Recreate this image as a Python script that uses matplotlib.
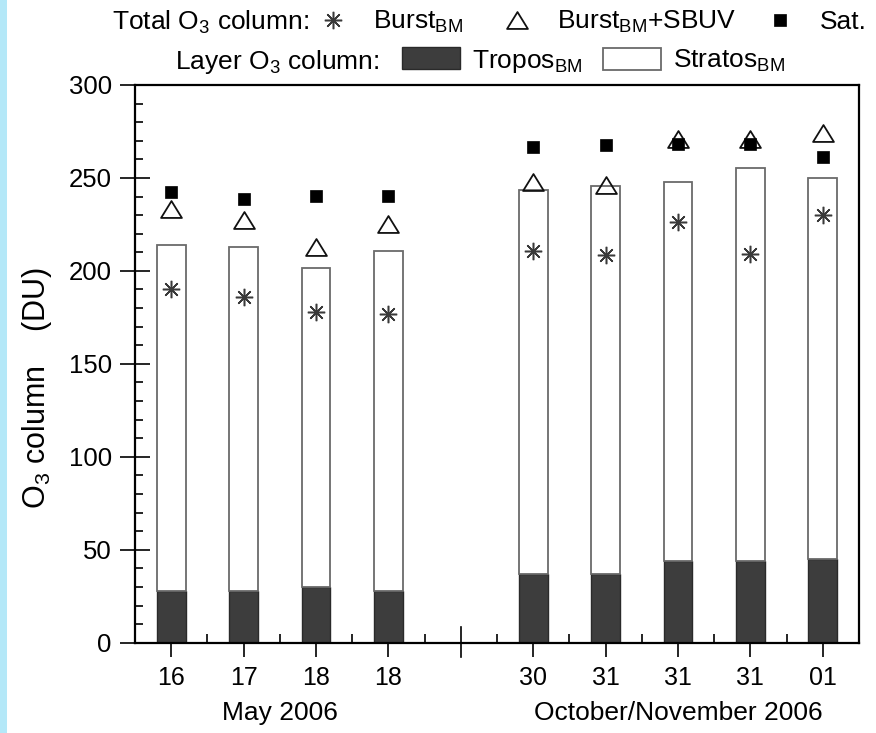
import matplotlib
matplotlib.use("Agg")
import matplotlib.pyplot as plt
import matplotlib.transforms as mtransforms
from matplotlib.path import Path
from matplotlib.lines import Line2D
from matplotlib.patches import Patch, Rectangle

plt.rcParams["font.family"] = ["Liberation Sans", "DejaVu Sans"]
plt.rcParams["mathtext.fontset"] = "custom"
plt.rcParams["mathtext.rm"] = "Liberation Sans"
plt.rcParams["mathtext.it"] = "Liberation Sans:italic"
plt.rcParams["mathtext.default"] = "regular"

# Launch days (x tick labels) and their slot positions; slot 5 separates the campaigns
days = ["16", "17", "18", "18", "30", "31", "31", "31", "01"]
positions = [1, 2, 3, 4, 6, 7, 8, 9, 10]
break_pos = 5
campaigns = ["May 2006", "October/November 2006"]
campaign_centers = [2.5, 8.0]

# Layer ozone columns (DU)
tropos = [28, 28, 30, 28, 37, 37, 44, 44, 45]
stratos = [186, 185, 171.5, 182.5, 206.5, 208.5, 204, 211.5, 205]

# Total ozone columns (DU)
burst = [190.5, 186, 178, 177, 210.5, 208.5, 226.5, 209, 230]
burst_sbuv = [233.5, 227.5, 213, 225, 248, 246, 271, 271, 274]
sat = [242.5, 238.5, 240.5, 240.5, 266.5, 267.5, 268, 268, 261.5]

W, H = 876, 733
FS = 19
fig = plt.figure(figsize=(W / 100, H / 100), dpi=100)
fig.patches.append(Rectangle((0, 0), 7 / W, 1, transform=fig.transFigure,
                             facecolor="#b4e8f8", edgecolor="none", zorder=0))

left, right, top, bottom = 135, 859, 85, 642.7
ax = fig.add_axes([left / W, 1 - bottom / H, (right - left) / W, (bottom - top) / H])

# Marker shapes
asterisk = (8, 2, 0)
tri_path = Path([(0, 0.81), (-1, -0.81), (1, -0.81), (0, 0.81)],
                [Path.MOVETO, Path.LINETO, Path.LINETO, Path.CLOSEPOLY])

bar_w = 0.4
trop_color = "#3d3d3d"
ax.bar(positions, tropos, width=bar_w, color=trop_color, edgecolor="#2a2a2a",
       linewidth=1.0, zorder=2)
ax.bar(positions, stratos, bottom=tropos, width=bar_w, facecolor="white",
       edgecolor="#6a6a6a", linewidth=1.3, zorder=2)

star_kw = dict(marker=asterisk, markersize=12.5, markeredgewidth=1.1,
               color="#3a3a3a", linestyle="none")
tri_kw = dict(marker=tri_path, markersize=15, markeredgewidth=1.3,
              markerfacecolor="none", markeredgecolor="#111111", linestyle="none")
sq_kw = dict(marker="s", markersize=8.5, markeredgewidth=0.5,
             color="black", linestyle="none")

ax.plot(positions, burst, zorder=3, **star_kw)
ax.plot(positions, burst_sbuv, zorder=3, **tri_kw)
ax.plot(positions, sat, zorder=4, **sq_kw)

ax.set_xlim(0.5, 10.5)
ax.set_ylim(0, 300)

ax.set_xticks(positions)
ax.set_xticklabels(days)
ax.set_xticks([p + 0.5 for p in range(1, 10)], minor=True)
ax.set_yticks(range(0, 301, 50))
ax.set_yticks(range(0, 301, 10), minor=True)

ax.tick_params(axis="x", which="major", direction="out", length=10, width=1.2,
               pad=7, labelsize=18)
ax.tick_params(axis="x", which="minor", direction="in", length=6.3, width=1.2)
ax.tick_params(axis="y", which="major", direction="inout", length=21.6, width=1.2,
               pad=6, labelsize=18.5)
ax.tick_params(axis="y", which="minor", direction="in", length=5.8, width=1.2)
for s in ax.spines.values():
    s.set_linewidth(1.6)

# Separator tick between the two campaigns
trans = mtransforms.blended_transform_factory(ax.transData, ax.transAxes)
ax.plot([break_pos, break_pos], [-0.025, 0.028], transform=trans, color="black",
        linewidth=1.2, clip_on=False, zorder=5)

for name, cx in zip(campaigns, campaign_centers):
    ax.text(cx, -0.126, name, transform=trans, ha="center", va="center", fontsize=FS)

fig.text(37 / W, 1 - 388 / H, "O$_3$ column    (DU)", rotation=90,
         ha="center", va="center", fontsize=22)

# Legend rows: a lead-in label followed by individually anchored entries
def legend_entry(handle, label, x_px, y_px, **kw):
    fig.legend([handle], [label], loc="center left",
               bbox_to_anchor=(x_px / W, 1 - y_px / H), frameon=False,
               fontsize=FS, borderpad=0, borderaxespad=0, **kw)

fig.text(112 / W, 1 - 30 / H, "Total O$_3$ column:", ha="left", va="baseline",
         fontsize=FS)
row1 = [(Line2D([], [], **star_kw), "Burst$_{BM}$", 320),
        (Line2D([], [], **tri_kw), "Burst$_{BM}$+SBUV", 504),
        (Line2D([], [], **sq_kw), "Sat.", 767)]
for h, lab, x in row1:
    legend_entry(h, lab, x, 22, handlelength=1.0, handletextpad=1.0)

fig.text(175 / W, 1 - 69 / H, "Layer O$_3$ column:", ha="left", va="baseline",
         fontsize=FS)
row2 = [(Patch(facecolor=trop_color, edgecolor="#2a2a2a", linewidth=1.0),
         "Tropos$_{BM}$", 402),
        (Patch(facecolor="white", edgecolor="#6a6a6a", linewidth=1.3),
         "Stratos$_{BM}$", 603)]
for h, lab, x in row2:
    legend_entry(h, lab, x, 61, handlelength=2.2, handleheight=0.9,
                 handletextpad=0.45)

fig.savefig("out.png", dpi=100)
